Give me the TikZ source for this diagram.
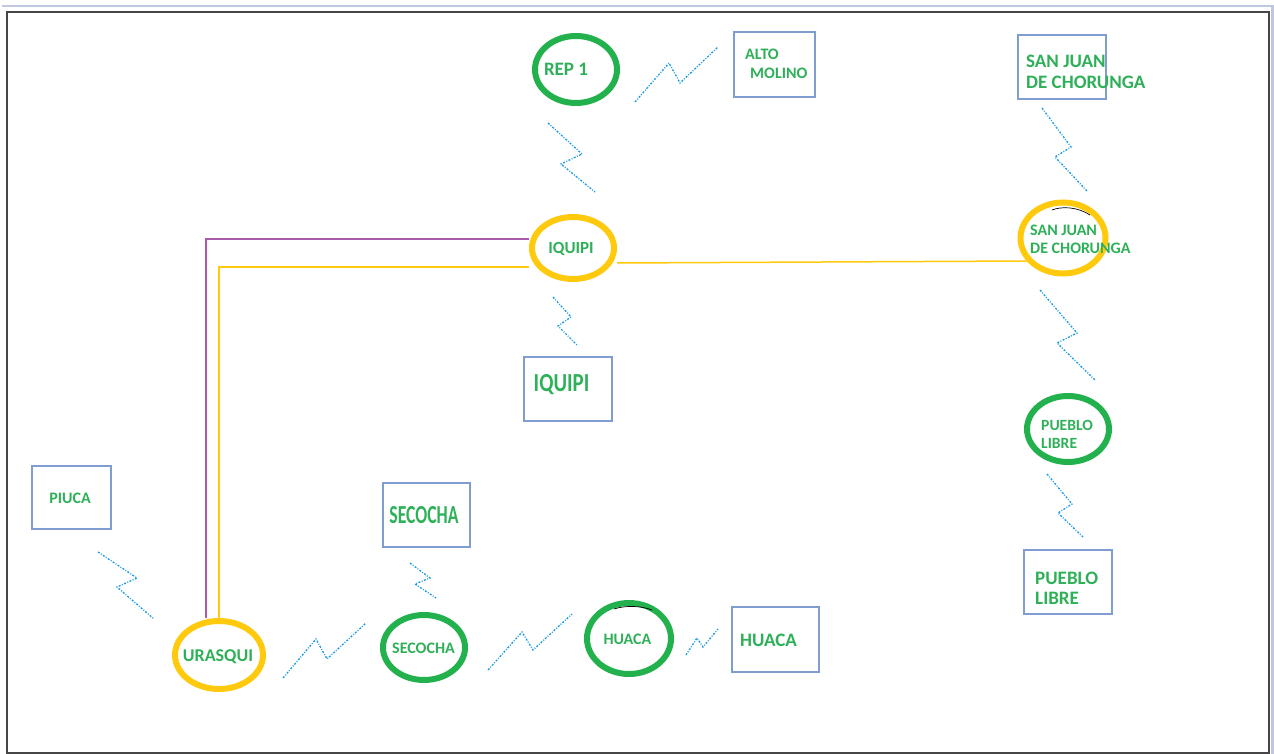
\documentclass[tikz,border=0pt]{standalone}
\usepackage{fontspec}
\setmainfont{Carlito}
\usepackage{graphicx}
\usetikzlibrary{shapes.geometric}
\definecolor{ellgreen}{RGB}{34,177,76}
\definecolor{ellyellow}{RGB}{255,201,14}
\definecolor{boxblue}{RGB}{127,157,207}
\definecolor{txtgreen}{RGB}{46,176,88}
\definecolor{boltblue}{RGB}{30,155,228}
\definecolor{purp}{RGB}{170,90,170}
\definecolor{framegray}{RGB}{70,70,70}
\definecolor{topblue}{RGB}{190,200,225}
\newcommand\fsz[2]{\fontsize{#1}{#2}\selectfont}
\begin{document}
\begin{tikzpicture}[x=1pt,y=-1pt,
 gell/.style={ellipse, draw=ellgreen, line width=6pt, inner sep=0pt},
 yell/.style={ellipse, draw=ellyellow, line width=6pt, inner sep=0pt},
 sbox/.style={rectangle, draw=boxblue, line width=1.3pt, inner sep=0pt},
 lbl/.style={inner sep=0pt, text=txtgreen},
 bolt/.style={draw=boltblue, line width=1.35pt, dash pattern=on 2pt off 1.5pt on 0.9pt off 1.5pt},
 yline/.style={draw=ellyellow, line width=1.5pt},
 pline/.style={draw=purp, line width=1.5pt},
 artifact/.style={draw=black, line width=0.7pt}]
\useasboundingbox (0,0) rectangle (1274,754);
% frame
\draw[topblue, line width=2pt] (2,6) -- (1274,6);
\draw[topblue, line width=3pt] (1272.5,6) -- (1272.5,754);
\draw[framegray, line width=2pt] (7,12) rectangle (1269,753);

% ellipses
\node[gell, minimum width=82pt, minimum height=67pt] (rep1) at (576,69.5) {};
\node[yell, minimum width=82pt, minimum height=62pt] (iq) at (573,248) {};
\node[yell, minimum width=85pt, minimum height=71pt] (sj) at (1063,238) {};
\node[gell, minimum width=82pt, minimum height=66pt] (pl) at (1068,429) {};
\node[yell, minimum width=88pt, minimum height=68pt] (ura) at (219,655) {};
\node[gell, minimum width=82pt, minimum height=65pt] (sec) at (424,647.5) {};
\node[gell, minimum width=84pt, minimum height=71pt] (hua) at (629,638.5) {};

% boxes
\node[sbox, minimum width=81pt, minimum height=65pt] (altob) at (774.5,64.5) {};
\node[sbox, minimum width=88pt, minimum height=64pt] (sjb) at (1062,67) {};
\node[sbox, minimum width=88pt, minimum height=64pt] (iqb) at (568,389) {};
\node[sbox, minimum width=88pt, minimum height=64pt] (plb) at (1068,582) {};
\node[sbox, minimum width=79pt, minimum height=63pt] (piub) at (71.5,497.5) {};
\node[sbox, minimum width=87pt, minimum height=64pt] (secb) at (426.5,515) {};
\node[sbox, minimum width=87pt, minimum height=65pt] (huab) at (775.5,639.5) {};

% texts
\node[lbl, font=\bfseries\fsz{19}{22}] (rep1t) at (566,69) {REP 1};
\node[lbl, font=\bfseries\fsz{16}{19}, align=left, anchor=west] (altot) at (745,63.5) {ALTO\\\hspace*{5pt}MOLINO};
\node[lbl, font=\bfseries\fsz{19}{21}, align=left, anchor=west] (sjbt) at (1026,71.5) {SAN JUAN\\DE CHORUNGA};
\node[lbl, font=\bfseries\fsz{16}{18}, align=left, anchor=west] (sjt) at (1030,239) {SAN JUAN\\DE CHORUNGA};
\node[lbl, font=\bfseries\fsz{15.6}{18}, align=left, anchor=west] (plt) at (1041,434) {PUEBLO\\LIBRE};
\node[lbl, font=\bfseries\fsz{19}{20}, align=left, anchor=west] (plbt) at (1035,588) {PUEBLO\\LIBRE};
\node[lbl, font=\bfseries\fsz{17}{20}] (iqt) at (571,249) {IQUIPI};
\node[lbl, font=\bfseries\fsz{26}{28}] (iqbt) at (561.5,385) {\scalebox{0.8}[1]{IQUIPI}};
\node[lbl, font=\bfseries\fsz{16}{19}] (piut) at (70,498) {PIUCA};
\node[lbl, font=\bfseries\fsz{18}{21}] (urat) at (218,657) {URASQUI};
\node[lbl, font=\bfseries\fsz{16}{19}] (sect) at (423.5,648) {SECOCHA};
\node[lbl, font=\bfseries\fsz{26}{28}] (secbt) at (424,515.5) {\scalebox{0.68}[1]{SECOCHA}};
\node[lbl, font=\bfseries\fsz{16}{19}] (huat) at (627.5,639) {HUACA};
\node[lbl, font=\bfseries\fsz{19}{22}] (huabt) at (768.5,640) {HUACA};

% small dark marks on ellipse tops
\draw[artifact] (1052,210) .. controls (1062,206) and (1078,207) .. (1090,215);
\draw[artifact] (614,609) .. controls (626,605) and (642,606) .. (652,610);

% wired links
\draw[yline] ([yshift=-15pt]iq.east) -- ([yshift=-23pt,xshift=9pt]sj.west);
\draw[pline] ([yshift=9pt]iq.west) -| ([xshift=-13pt]ura.north);
\draw[yline] ([yshift=-19pt]iq.west) -| (ura.north);

% radio links (lightning)
\draw[bolt] (635,102) -- (669,63) -- (680,83) -- (718,47);
\draw[bolt] (548,123) -- (582,154) -- (561,164) -- (595,192);
\draw[bolt] (1042,108) -- (1071,147) -- (1055,157) -- (1087,191);
\draw[bolt] (1040,290) -- (1077,333) -- (1057,343) -- (1095,380);
\draw[bolt] (1047,474) -- (1072,504) -- (1058,513) -- (1083,537);
\draw[bolt] (553,297) -- (571,317) -- (558,326) -- (577,345);
\draw[bolt] (98,552) -- (137,578) -- (117,587) -- (154,619);
\draw[bolt] (283,678) -- (316,639) -- (327,659) -- (366,623);
\draw[bolt] (410,563) -- (430,578) -- (415,584) -- (436,598);
\draw[bolt] (488,670) -- (522,632) -- (533,650) -- (572,614);
\draw[bolt] (686,655) -- (697,638) -- (703,647) -- (718,629);
\end{tikzpicture}
\end{document}
